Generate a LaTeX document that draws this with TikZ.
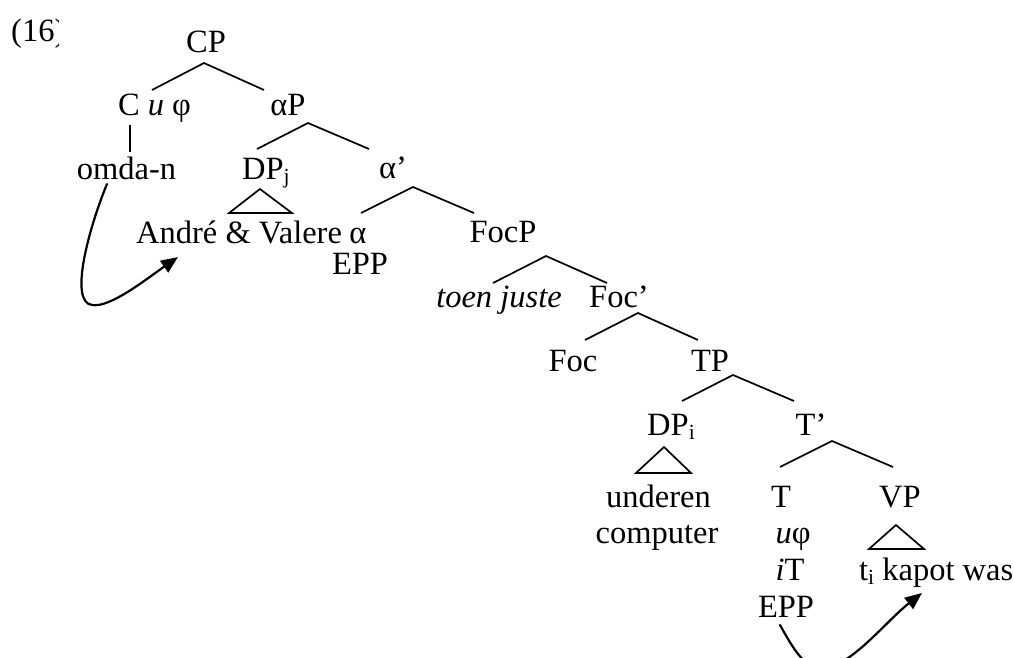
\documentclass[tikz,border=0pt]{standalone}
\usepackage{fontspec}
\setmainfont{Liberation Serif}
\usetikzlibrary{arrows.meta}
% small lowered index for labels such as DP_j
\newcommand{\lsub}[1]{\raisebox{-4pt}{\fontsize{21.5}{22}\selectfont #1}}
\begin{document}
\begin{tikzpicture}[x=1pt,y=-1pt,
  lbl/.style={inner sep=0pt, anchor=base, font=\fontsize{32.5}{37}\selectfont},
  lblw/.style={lbl, anchor=base west},
  branch/.style={line width=1.7pt, line join=miter, line cap=butt},
  movearrow/.style={line width=2.2pt, line cap=round, -{Triangle[length=17pt,width=14pt]}}]
\clip (0,0) rectangle (1014,657);

% example number
\begin{scope}
  \clip (0,0) rectangle (58,60);
  \node[lblw] (num) at (11,41) {(16)};
\end{scope}

% labels
\node[lbl] (CP) at (206,52) {CP};
\node[lbl] (C) at (154.5,115) {C \textit{u} φ};
\node[lbl] (aP) at (288,115) {αP};
\node[lbl] (omda) at (126.5,179) {omda-n};
\node[lblw] (DPj) at (242,179) {DP\lsub{j}};
\node[lbl] (abar) at (393,178) {α’};
\node[lblw] (AV) at (136,243) {André \& Valere};
\node[lbl] (alpha) at (358,243) {α};
\node[lbl] (eppa) at (360,274) {EPP};
\node[lbl] (FocP) at (503,242) {FocP};
\node[lbl] (toen) at (499,307) {\textit{toen juste}};
\node[lbl] (Focbar) at (619,307) {Foc’};
\node[lbl] (Foc) at (573,371) {Foc};
\node[lbl] (TP) at (710,371) {TP};
\node[lblw] (DPi) at (647,435) {DP\lsub{i}};
\node[lbl] (Tbar) at (811,435) {T’};
\node[lbl] (und) at (658.5,507) {underen};
\node[lbl] (comp) at (657,543) {computer};
\node[lbl] (T) at (781,507) {T};
\node[lbl] (uphi) at (793,543) {\textit{u}φ};
\node[lbl] (iT) at (790,580) {\textit{i}T};
\node[lbl] (eppt) at (786,617) {EPP};
\node[lbl] (VP) at (900,507) {VP};
\node[lblw] (kapot) at (859,580) {t\lsub{i} kapot was};

% branch points
\coordinate (CP-t) at (204,63);   \coordinate (CP-l) at (152,90);   \coordinate (CP-r) at (264,90);
\coordinate (aP-t) at (308,123);  \coordinate (aP-l) at (257,149);  \coordinate (aP-r) at (369,149);
\coordinate (ab-t) at (413,187);  \coordinate (ab-l) at (361,213);  \coordinate (ab-r) at (474,213);
\coordinate (FP-t) at (546,256);  \coordinate (FP-l) at (493,283);  \coordinate (FP-r) at (607,283);
\coordinate (Fb-t) at (638,313);  \coordinate (Fb-l) at (585,340);  \coordinate (Fb-r) at (698,340);
\coordinate (TP-t) at (733,375);  \coordinate (TP-l) at (682,401);  \coordinate (TP-r) at (794,401);
\coordinate (Tb-t) at (832,441);  \coordinate (Tb-l) at (780,467);  \coordinate (Tb-r) at (893,467);
\coordinate (C-t) at (130,125);   \coordinate (C-b) at (130,152);

% branches
\draw[branch] (CP-l) -- (CP-t) -- (CP-r);
\draw[branch] (aP-l) -- (aP-t) -- (aP-r);
\draw[branch] (ab-l) -- (ab-t) -- (ab-r);
\draw[branch] (FP-l) -- (FP-t) -- (FP-r);
\draw[branch] (Fb-l) -- (Fb-t) -- (Fb-r);
\draw[branch] (TP-l) -- (TP-t) -- (TP-r);
\draw[branch] (Tb-l) -- (Tb-t) -- (Tb-r);
\draw[line width=1.3pt] (C-t) -- (C-b);

% triangles over phrasal material
\draw[branch] (260,189) -- (229,213) -- (292,213) -- cycle;
\draw[branch] (664,447) -- (636,473) -- (691,473) -- cycle;
\draw[branch] (896,525) -- (869,549) -- (924,549) -- cycle;

% movement arrows
\coordinate (m1s) at (107,184);
\coordinate (m1e) at (178,257);
\draw[movearrow] (m1s) .. controls (90,225) and (68,302) .. (92,305)
                       .. controls (110,308) and (145,280) .. (m1e);
\coordinate (m2s) at (780,625);
\coordinate (m2e) at (922,593);
\draw[movearrow] (m2s) .. controls (795,652) and (805,668) .. (822,668)
                       .. controls (850,668) and (885,622) .. (m2e);
\end{tikzpicture}
\end{document}
